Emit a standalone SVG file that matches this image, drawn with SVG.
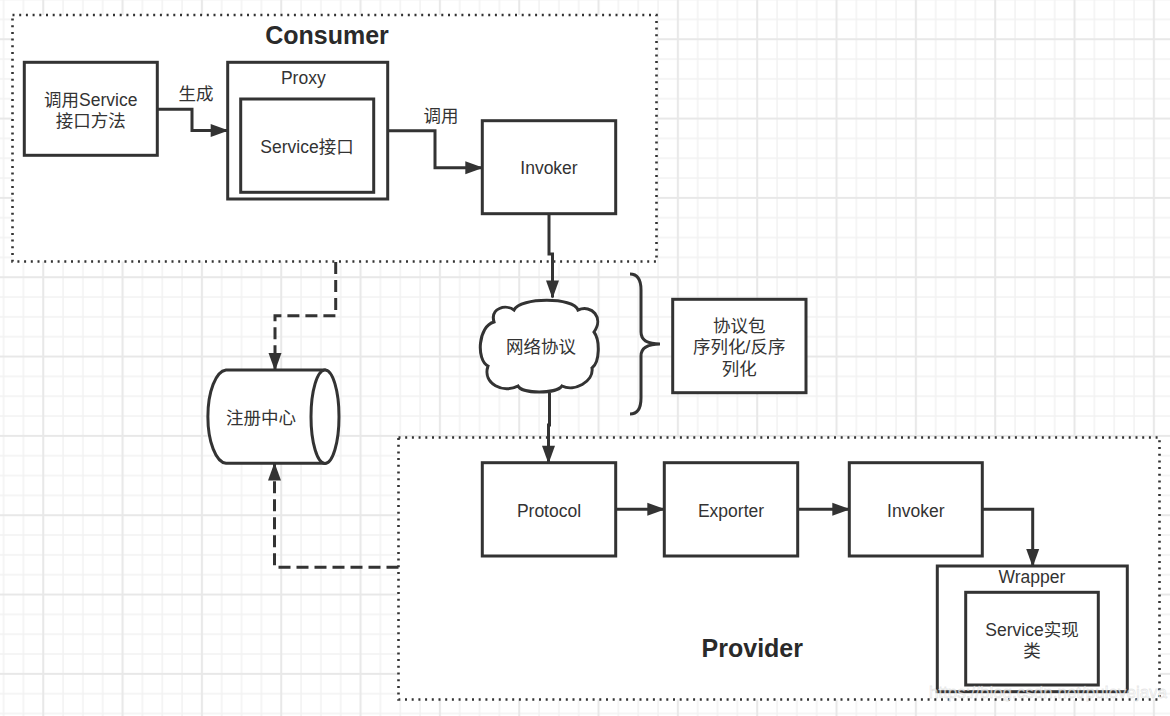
<svg xmlns="http://www.w3.org/2000/svg" width="1170" height="716" viewBox="0 0 1170 716">
<defs>
<style>
.box{fill:#fff;stroke:#333;stroke-width:3}
.cont{fill:#fff;stroke:#333;stroke-width:2.6;stroke-dasharray:2 4.7}
.t{font-family:"Liberation Sans","Noto Sans CJK SC",sans-serif;font-size:17.5px;fill:#333;text-anchor:middle}
.title{font-family:"Liberation Sans","Noto Sans CJK SC",sans-serif;font-size:25px;font-weight:bold;fill:#2a2a2a;text-anchor:middle}
.edge{fill:none;stroke:#333;stroke-width:3}
.dash{fill:none;stroke:#333;stroke-width:3;stroke-dasharray:12 6}
</style>
<pattern id="grid" x="-6.4" y="-10.35" width="79.33" height="79.33" patternUnits="userSpaceOnUse">
<path d="M10,0V79.33M29.83,0V79.33M69.5,0V79.33M0,10H79.33M0,29.83H79.33M0,69.5H79.33" stroke="#f2f2f2" stroke-width="1.5" fill="none"/>
<path d="M49.67,0V79.33M0,49.67H79.33" stroke="#e8e8e8" stroke-width="2" fill="none"/>
</pattern>
<marker id="arr" markerUnits="userSpaceOnUse" markerWidth="20" markerHeight="14" refX="17" refY="6.5" orient="auto" overflow="visible">
<path d="M0,0L18,6.5L0,13Z" fill="#333"/>
</marker>
</defs>
<rect width="1170" height="716" fill="#fff"/>
<rect width="1170" height="716" fill="url(#grid)"/>

<g id="consumer">
<rect class="cont" x="12.5" y="15" width="644" height="246.5"/>
<text class="title" x="327" y="44.3">Consumer</text>
</g>
<g id="provider">
<rect class="cont" x="398.5" y="437.5" width="761" height="262"/>
<text class="title" x="752.3" y="656.7">Provider</text>
</g>

<g id="connectors">
<path class="edge" d="M157.3,109.3H192V130.5H227.7" marker-end="url(#arr)"/>
<path class="edge" d="M387.7,130.7H435V167.7H482.3" marker-end="url(#arr)"/>
<path class="edge" d="M549,214V254H552.5V297.5" marker-end="url(#arr)"/>
<path class="edge" d="M549.5,393V425H548.5V462.7" marker-end="url(#arr)"/>
<path class="edge" d="M615.7,509.3H664.3" marker-end="url(#arr)"/>
<path class="edge" d="M797.7,509.3H849.3" marker-end="url(#arr)"/>
<path class="edge" d="M982.3,509.3H1032.7V566" marker-end="url(#arr)"/>
<path class="dash" d="M335.7,262V315.7H275V370" marker-end="url(#arr)"/>
<path class="dash" d="M398.5,567.3H274.5V463.5" marker-end="url(#arr)"/>
<path class="edge" d="M630,274C638,274 641,280 641,290V332C641,340 648,344 660,344C648,344 641,348 641,356V398C641,408 638,414 630,414"/>
</g>

<g id="caller">
<rect class="box" x="24.3" y="62.3" width="133" height="93"/>
<text class="t" x="90.8" y="106">调用Service</text>
<text class="t" x="90.8" y="127">接口方法</text>
</g>
<text class="t" x="196" y="100">生成</text>
<text class="t" x="441" y="121.5">调用</text>

<g id="proxy">
<rect class="box" x="227.7" y="62.3" width="160" height="136.7"/>
<text class="t" x="303.3" y="83.5">Proxy</text>
</g>
<g id="service-interface">
<rect class="box" x="240.7" y="99" width="133" height="93.3"/>
<text class="t" x="307" y="152.8">Service接口</text>
</g>
<g id="consumer-invoker">
<rect class="box" x="482.3" y="120.7" width="133.4" height="93"/>
<text class="t" x="549" y="173.8">Invoker</text>
</g>

<g id="network">
<path class="box" d="M488,366C476,360 478,326 494,322C490,308 506,304 514,310C520,297 574,297 578,310C592,304 604,318 594,332C600,340 600,362 592,368C594,382 574,392 562,386C556,394 522,394 518,386C504,394 482,384 488,366Z"/>
<text class="t" x="541" y="353.3">网络协议</text>
</g>

<g id="protocol-package">
<rect class="box" x="672.7" y="299.3" width="133.3" height="93.4"/>
<text class="t" x="739.3" y="331.7">协议包</text>
<text class="t" x="739.3" y="353.3">序列化/反序</text>
<text class="t" x="739.3" y="374.5">列化</text>
</g>

<g id="registry">
<path class="box" d="M226,370H325A14,46.7 0 0 1 325,463.3H226A19,46.7 0 0 1 226,370Z"/>
<ellipse class="box" cx="325" cy="416.7" rx="14" ry="46.7"/>
<text class="t" x="261" y="424.3">注册中心</text>
</g>

<g id="protocol">
<rect class="box" x="482.3" y="462.7" width="133.4" height="93.3"/>
<text class="t" x="549" y="516.7">Protocol</text>
</g>
<g id="exporter">
<rect class="box" x="664.3" y="462.7" width="133.4" height="93.3"/>
<text class="t" x="731" y="516.7">Exporter</text>
</g>
<g id="provider-invoker">
<rect class="box" x="849.3" y="462.7" width="133" height="93.3"/>
<text class="t" x="915.8" y="516.7">Invoker</text>
</g>
<g id="wrapper">
<rect class="box" x="937.3" y="566" width="190" height="125.7"/>
<text class="t" x="1032" y="582.7">Wrapper</text>
</g>
<g id="service-impl">
<rect class="box" x="965.7" y="592.3" width="132.6" height="92.7"/>
<text class="t" x="1032" y="636">Service实现</text>
<text class="t" x="1032" y="657">类</text>
</g>

<text x="1048" y="698" font-family="'Liberation Sans',sans-serif" font-size="17" text-anchor="middle" fill="#fff" fill-opacity="0.7" stroke="#999" stroke-opacity="0.25" stroke-width="0.8">https://blog.csdn.net/pulovejava</text>
</svg>
